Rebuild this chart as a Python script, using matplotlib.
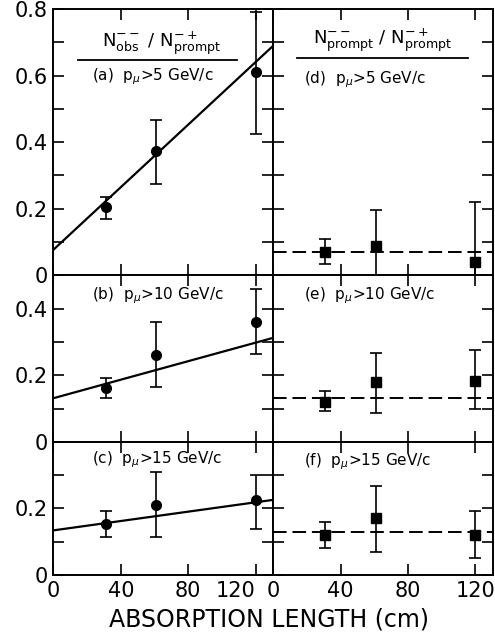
import matplotlib
matplotlib.use('Agg')
import matplotlib.pyplot as plt
from matplotlib.ticker import MultipleLocator, FixedLocator, FixedFormatter

# absorption length (cm) of the three data points
x_pts = [31, 61, 120]

# left column: N--obs / N-+prompt, solid fit line
obs_y    = [[0.205, 0.373, 0.611], [0.162, 0.261, 0.361], [0.154, 0.211, 0.226]]
obs_lo   = [[0.170, 0.274, 0.424], [0.131, 0.164, 0.264], [0.113, 0.114, 0.139]]
obs_hi   = [[0.234, 0.466, 0.792], [0.191, 0.360, 0.460], [0.192, 0.308, 0.300]]
fit_x    = [0, 131]
fit_y    = [[0.077, 0.692], [0.131, 0.313], [0.134, 0.226]]

# right column: N--prompt / N-+prompt, dashed constant
pr_y     = [[0.070, 0.088, 0.040], [0.121, 0.179, 0.184], [0.119, 0.171, 0.119]]
pr_lo    = [[0.033, -0.020, -0.140], [0.092, 0.087, 0.100], [0.081, 0.070, 0.050]]
pr_hi    = [[0.110, 0.195, 0.220], [0.152, 0.267, 0.277], [0.159, 0.266, 0.191]]
const_y  = [0.070, 0.131, 0.129]

ymax     = [0.8, 0.5, 0.4]
ylabels  = [[0, 0.2, 0.4, 0.6, 0.8], [0, 0.2, 0.4], [0, 0.2]]
left_lbl = ['(a)  p$_\\mu$>5 GeV/c', '(b)  p$_\\mu$>10 GeV/c', '(c)  p$_\\mu$>15 GeV/c']
right_lbl = ['(d)  p$_\\mu$>5 GeV/c', '(e)  p$_\\mu$>10 GeV/c', '(f)  p$_\\mu$>15 GeV/c']
xticks   = [0, 40, 80, 120]

plt.rcParams['font.family'] = ['DejaVu Sans']
plt.rcParams['mathtext.fontset'] = 'dejavusans'

fig = plt.figure(figsize=(4.95, 6.41), dpi=100)
gs = fig.add_gridspec(3, 2, height_ratios=ymax, hspace=0, wspace=0,
                      left=0.108, right=0.996, top=0.986, bottom=0.103)

lbl_y = [0.744, 0.878, 0.865]
lbl_yr = [0.733, 0.878, 0.852]

for r in range(3):
    for c in range(2):
        ax = fig.add_subplot(gs[r, c])
        ax.set_xlim(0, 130.5)
        ax.set_ylim(0, ymax[r])
        for s in ax.spines.values():
            s.set_linewidth(1.4)
        ax.yaxis.set_major_locator(MultipleLocator(0.1))
        ax.xaxis.set_major_locator(FixedLocator(xticks))
        ax.tick_params(direction='in', length=8, width=1.2, top=True, right=True,
                       labelsize=15, pad=4)
        if c == 0:
            ticks = [round(0.1 * i, 1) for i in range(int(round(ymax[r] * 10)) + 1)]
            labs = [('0' if t == 0 else f'{t:.1f}') if t in ylabels[r] else '' for t in ticks]
            ax.yaxis.set_major_locator(FixedLocator(ticks))
            ax.yaxis.set_major_formatter(FixedFormatter(labs))
        else:
            ax.set_yticklabels([])
        if r == 2:
            tl = ax.set_xticklabels([str(t) for t in xticks])
            if c == 0:
                # keep "120" clear of the right panel's "0"
                tl[-1].set_horizontalalignment('right')
        else:
            ax.set_xticklabels([])

        if c == 0:
            ys, lo, hi = obs_y[r], obs_lo[r], obs_hi[r]
            err = [[y - l for y, l in zip(ys, lo)], [h - y for y, h in zip(ys, hi)]]
            ax.plot(fit_x, fit_y[r], color='black', lw=1.6, clip_on=True)
            eb = ax.errorbar(x_pts, ys, yerr=err, fmt='o', color='black', ms=7,
                             capsize=4, elinewidth=1.2, capthick=1.2)
            ax.text(0.175, lbl_y[r], left_lbl[r], transform=ax.transAxes,
                    fontsize=11, va='center', ha='left')
        else:
            ys, lo, hi = pr_y[r], pr_lo[r], pr_hi[r]
            err = [[y - l for y, l in zip(ys, lo)], [h - y for y, h in zip(ys, hi)]]
            ax.plot(fit_x, [const_y[r], const_y[r]], color='black', lw=1.4,
                    linestyle=(0, (7, 3)))
            eb = ax.errorbar(x_pts, ys, yerr=err, fmt='s', color='black', ms=7,
                             capsize=4, elinewidth=1.2, capthick=1.2)
            ax.text(0.142, lbl_yr[r], right_lbl[r], transform=ax.transAxes,
                    fontsize=11, va='center', ha='left')
        for art in eb.get_children():
            art.set_clip_on(False)

        if r == 0 and c == 0:
            ax.text(0.493, 0.872, r'N$^{--}_{\rm obs}$ / N$^{-+}_{\rm prompt}$',
                    transform=ax.transAxes, fontsize=13, ha='center', va='center')
            ax.plot([0.111, 0.834], [0.807, 0.807], color='black', lw=1.3,
                    transform=ax.transAxes)
        if r == 0 and c == 1:
            ax.text(0.498, 0.883, r'N$^{--}_{\rm prompt}$ / N$^{-+}_{\rm prompt}$',
                    transform=ax.transAxes, fontsize=13, ha='center', va='center')
            ax.plot([0.11, 0.886], [0.816, 0.816], color='black', lw=1.3,
                    transform=ax.transAxes)

fig.text(0.544, 0.033, 'ABSORPTION LENGTH (cm)', fontsize=17, ha='center', va='center')

fig.savefig('out.png', dpi=100)
